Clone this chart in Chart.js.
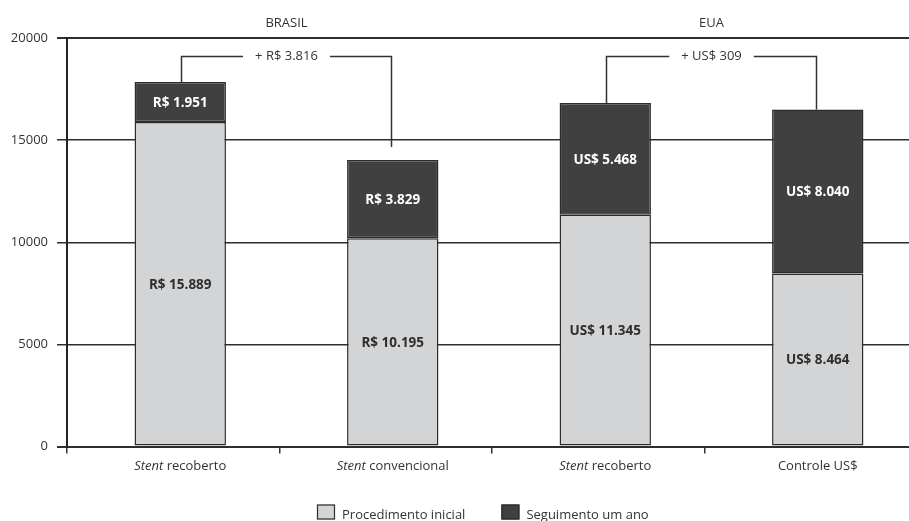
<!DOCTYPE html>
<html>
<head>
<meta charset="utf-8">
<script src="https://cdn.jsdelivr.net/npm/chart.js@4/dist/chart.umd.min.js"></script>
<style>
  html, body { margin: 0; padding: 0; background: #fff; }
  #wrap { width: 909px; height: 521px; position: relative; overflow: hidden; }
  #c { display: block; }
</style>
</head>
<body>
<div id="wrap"><canvas id="c" width="917" height="521"></canvas></div>
<script>
// Custo por paciente: procedimento inicial + seguimento de um ano
const categories = ['Stent recoberto', 'Stent convencional', 'Stent recoberto', 'Controle US$'];
const currencies = ['R$', 'R$', 'US$', 'US$'];
const procedimentoInicial = [15889, 10195, 11345, 8464];
const seguimentoUmAno = [1951, 3829, 5468, 8040];
const seriesNames = ['Procedimento inicial', 'Seguimento um ano'];
const yTickValues = [0, 5000, 10000, 15000, 20000];
const groupNames = ['BRASIL', 'EUA'];
const groupFirst = [0, 2];
const groupLast = [1, 3];

const FONT = "'Open Sans', 'Noto Sans', sans-serif";
const TEXT = '#333333';
const LIGHT = '#d3d4d6';
const DARK = '#404040';
const EDGE = '#2b2b2b';
const BAR_SHIFT = 7;              // bars sit slightly right of their category centre
const BRACKET_RIGHT_GAP = [13, 0]; // space left under the right leg of each bracket

function fmt(n) {
  return String(n).replace(/\B(?=(\d{3})+(?!\d))/g, '.');
}

const totals = procedimentoInicial.map((v, i) => v + seguimentoUmAno[i]);

const decor = {
  id: 'decor',
  beforeDatasetsDraw(chart) {
    chart.ctx.save();
    chart.ctx.translate(BAR_SHIFT, 0);
  },
  afterDatasetsDraw(chart) {
    const ctx = chart.ctx;
    ctx.restore();
    // value labels inside each segment
    ctx.save();
    ctx.font = `bold 13.5px ${FONT}`;
    ctx.textAlign = 'center';
    ctx.textBaseline = 'middle';
    chart.data.datasets.forEach((ds, di) => {
      const meta = chart.getDatasetMeta(di);
      meta.data.forEach((bar, j) => {
        const cy = (bar.y + bar.base) / 2;
        ctx.fillStyle = di === 0 ? '#2e2e2e' : '#ffffff';
        ctx.fillText(currencies[j] + ' ' + fmt(ds.data[j]), bar.x + BAR_SHIFT, cy + 1);
      });
    });
    ctx.restore();
  },
  afterDraw(chart) {
    const ctx = chart.ctx;
    const area = chart.chartArea;
    const topMeta = chart.getDatasetMeta(1);
    const xOf = j => topMeta.data[j].x + BAR_SHIFT;

    ctx.save();
    ctx.fillStyle = TEXT;
    ctx.strokeStyle = TEXT;

    // group headings
    ctx.font = `13px ${FONT}`;
    ctx.textAlign = 'center';
    ctx.textBaseline = 'alphabetic';
    groupNames.forEach((name, g) => {
      const mid = (xOf(groupFirst[g]) + xOf(groupLast[g])) / 2;
      ctx.fillText(name, mid, area.top - 11);
    });

    // difference brackets
    ctx.lineWidth = 1.5;
    const yLine = Math.round(area.top + 18) + 0.5;
    groupNames.forEach((name, g) => {
      const a = groupFirst[g], b = groupLast[g];
      const xa = Math.round(xOf(a)) + 1.5, xb = Math.round(xOf(b)) - 1.5;
      const ya = topMeta.data[a].y, yb = topMeta.data[b].y - BRACKET_RIGHT_GAP[g];
      const label = '+ ' + currencies[a] + ' ' + fmt(totals[a] - totals[b]);
      const mid = (xa + xb) / 2;
      const w = ctx.measureText(label).width;
      const gap = 12;
      ctx.beginPath();
      ctx.moveTo(xa, ya);
      ctx.lineTo(xa, yLine);
      ctx.lineTo(mid - w / 2 - gap, yLine);
      ctx.moveTo(mid + w / 2 + gap, yLine);
      ctx.lineTo(xb, yLine);
      ctx.lineTo(xb, yb);
      ctx.stroke();
      ctx.textBaseline = 'middle';
      ctx.fillText(label, mid, yLine);
    });

    // category labels, with "Stent" in italics
    ctx.textBaseline = 'alphabetic';
    ctx.textAlign = 'left';
    categories.forEach((cat, j) => {
      const cx = xOf(j);
      const y = area.bottom + 23;
      let first = '', rest = cat;
      if (cat.startsWith('Stent ')) { first = 'Stent'; rest = cat.slice(5); }
      ctx.font = `italic 13px ${FONT}`;
      const w1 = first ? ctx.measureText(first).width : 0;
      ctx.font = `13px ${FONT}`;
      const w2 = ctx.measureText(rest).width;
      let x = cx - (w1 + w2) / 2;
      if (first) {
        ctx.font = `italic 13px ${FONT}`;
        ctx.fillText(first, x, y);
        x += w1;
      }
      ctx.font = `13px ${FONT}`;
      ctx.fillText(rest, x, y);
    });

    // legend
    ctx.font = `13px ${FONT}`;
    let lx = area.left + 250;
    const boxY = area.bottom + 58;
    chart.data.datasets.forEach(ds => {
      ctx.fillStyle = ds.backgroundColor;
      ctx.fillRect(lx, boxY, 18, 15);
      ctx.strokeStyle = EDGE;
      ctx.lineWidth = 1.2;
      ctx.strokeRect(lx + 0.5, boxY + 0.5, 17, 14);
      ctx.fillStyle = TEXT;
      ctx.fillText(ds.label, lx + 25, boxY + 14);
      lx += 25 + ctx.measureText(ds.label).width + 36;
    });
    ctx.restore();
  }
};

new Chart(document.getElementById('c'), {
  type: 'bar',
  data: {
    labels: categories,
    datasets: [
      {
        label: seriesNames[0],
        data: procedimentoInicial,
        backgroundColor: LIGHT,
        borderColor: EDGE,
        borderWidth: 1.5,
        borderSkipped: false,
        barPercentage: 0.43,
        categoryPercentage: 1
      },
      {
        label: seriesNames[1],
        data: seguimentoUmAno,
        backgroundColor: DARK,
        borderColor: EDGE,
        borderWidth: 1.5,
        borderSkipped: false,
        barPercentage: 0.43,
        categoryPercentage: 1
      }
    ]
  },
  options: {
    responsive: false,
    devicePixelRatio: 1,
    animation: false,
    layout: { padding: { top: 38, right: 0, bottom: 74.5, left: 0 } },
    plugins: { legend: { display: false }, tooltip: { enabled: false } },
    scales: {
      x: {
        stacked: true,
        offset: true,
        ticks: { display: false },
        grid: {
          display: true,
          offset: true,
          drawOnChartArea: false,
          drawTicks: true,
          tickLength: 7,
          color: TEXT,
          lineWidth: 1.5
        },
        border: { display: false },
        afterFit: s => { s.height = 0; }
      },
      y: {
        stacked: true,
        min: 0,
        max: 20000,
        afterBuildTicks: s => { s.ticks = yTickValues.map(v => ({ value: v })); },
        ticks: {
          padding: 9,
          color: TEXT,
          font: { family: FONT, size: 13 },
          callback: v => String(v)
        },
        grid: {
          color: '#2e2e2e',
          lineWidth: c => (c.tick && (c.tick.value === 0 || c.tick.value === 20000)) ? 2 : 1.5,
          drawTicks: true,
          tickLength: 10
        },
        border: { display: true, color: '#222', width: 2 },
        afterFit: s => { s.width = 67; }
      }
    }
  },
  plugins: [decor]
});
</script>
</body>
</html>
